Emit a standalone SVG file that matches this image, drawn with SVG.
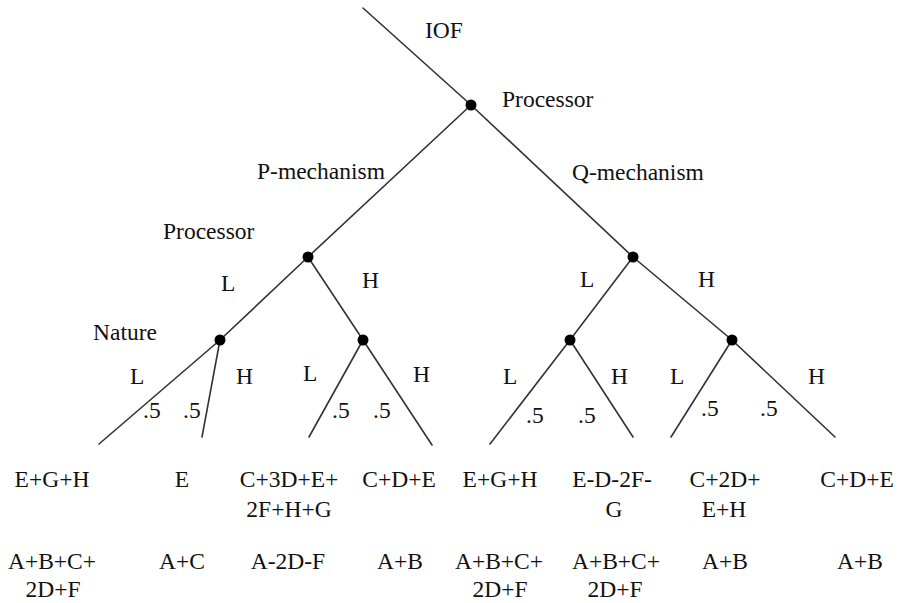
<svg xmlns="http://www.w3.org/2000/svg" width="901" height="603" viewBox="0 0 901 603">
  <style>
    text { font-family: "Liberation Serif", "Times New Roman", "DejaVu Serif", serif; font-size: 23.5px; fill: #111; }
    .c { text-anchor: middle; }
    .edge { stroke: #333; stroke-width: 1.6; fill: none; stroke-linecap: round; }
    .dot { fill: #000; }
  </style>
  <rect width="901" height="603" fill="#fff"/>

  <!-- branches of the game tree -->
  <g id="connectors">
    <line class="edge" x1="363" y1="8" x2="471" y2="105"/>
    <line class="edge" x1="471" y1="105" x2="308" y2="257"/>
    <line class="edge" x1="471" y1="105" x2="633" y2="257"/>
    <line class="edge" x1="308" y1="257" x2="220" y2="340"/>
    <line class="edge" x1="308" y1="257" x2="363" y2="340"/>
    <line class="edge" x1="633" y1="257" x2="570" y2="340"/>
    <line class="edge" x1="633" y1="257" x2="732" y2="340"/>
    <line class="edge" x1="220" y1="340" x2="99" y2="444"/>
    <line class="edge" x1="220" y1="340" x2="202" y2="437"/>
    <line class="edge" x1="363" y1="340" x2="309" y2="437"/>
    <line class="edge" x1="363" y1="340" x2="432" y2="445"/>
    <line class="edge" x1="570" y1="340" x2="490" y2="444"/>
    <line class="edge" x1="570" y1="340" x2="633" y2="437"/>
    <line class="edge" x1="732" y1="340" x2="671" y2="437"/>
    <line class="edge" x1="732" y1="340" x2="835" y2="437"/>
  </g>

  <text x="425" y="38">IOF</text>

  <g id="root">
    <circle class="dot" cx="471" cy="105" r="5.5"/>
    <text x="502" y="107">Processor</text>
  </g>

  <text x="257" y="179">P-mechanism</text>
  <text x="572" y="180">Q-mechanism</text>

  <g id="p-processor">
    <circle class="dot" cx="308" cy="257" r="5.5"/>
    <text x="163" y="239">Processor</text>
    <text x="221" y="291">L</text>
    <text x="362" y="288">H</text>
  </g>

  <g id="q-processor">
    <circle class="dot" cx="633" cy="257" r="5.5"/>
    <text x="580" y="287">L</text>
    <text x="698" y="287">H</text>
  </g>

  <g id="p-nature-low">
    <circle class="dot" cx="220" cy="340" r="5.5"/>
    <text x="93" y="340">Nature</text>
    <text x="130" y="384">L</text>
    <text x="236" y="384">H</text>
    <text x="143" y="418">.5</text>
    <text x="183" y="418">.5</text>
  </g>

  <g id="p-nature-high">
    <circle class="dot" cx="363" cy="340" r="5.5"/>
    <text x="303" y="381">L</text>
    <text x="413" y="382">H</text>
    <text x="332" y="418">.5</text>
    <text x="373" y="418">.5</text>
  </g>

  <g id="q-nature-low">
    <circle class="dot" cx="570" cy="340" r="5.5"/>
    <text x="503" y="384">L</text>
    <text x="611" y="384">H</text>
    <text x="526" y="423">.5</text>
    <text x="578" y="423">.5</text>
  </g>

  <g id="q-nature-high">
    <circle class="dot" cx="732" cy="340" r="5.5"/>
    <text x="670" y="384">L</text>
    <text x="808" y="384">H</text>
    <text x="701" y="416">.5</text>
    <text x="760" y="416">.5</text>
  </g>

  <!-- payoffs at the terminal nodes -->
  <g id="leaf-1">
    <text class="c" x="52" y="487">E+G+H</text>
    <text class="c" x="52" y="569">A+B+C+</text>
    <text class="c" x="53" y="597">2D+F</text>
  </g>
  <g id="leaf-2">
    <text class="c" x="182" y="487">E</text>
    <text class="c" x="182" y="569">A+C</text>
  </g>
  <g id="leaf-3">
    <text class="c" x="289" y="487">C+3D+E+</text>
    <text class="c" x="289" y="517">2F+H+G</text>
    <text class="c" x="288" y="569">A-2D-F</text>
  </g>
  <g id="leaf-4">
    <text class="c" x="399" y="487">C+D+E</text>
    <text class="c" x="400" y="569">A+B</text>
  </g>
  <g id="leaf-5">
    <text class="c" x="500" y="487">E+G+H</text>
    <text class="c" x="499" y="569">A+B+C+</text>
    <text class="c" x="500" y="597">2D+F</text>
  </g>
  <g id="leaf-6">
    <text class="c" x="612" y="487">E-D-2F-</text>
    <text class="c" x="614" y="517">G</text>
    <text class="c" x="616" y="569">A+B+C+</text>
    <text class="c" x="615" y="597">2D+F</text>
  </g>
  <g id="leaf-7">
    <text class="c" x="725" y="487">C+2D+</text>
    <text class="c" x="724" y="517">E+H</text>
    <text class="c" x="725" y="569">A+B</text>
  </g>
  <g id="leaf-8">
    <text class="c" x="857" y="487">C+D+E</text>
    <text class="c" x="860" y="569">A+B</text>
  </g>
</svg>
